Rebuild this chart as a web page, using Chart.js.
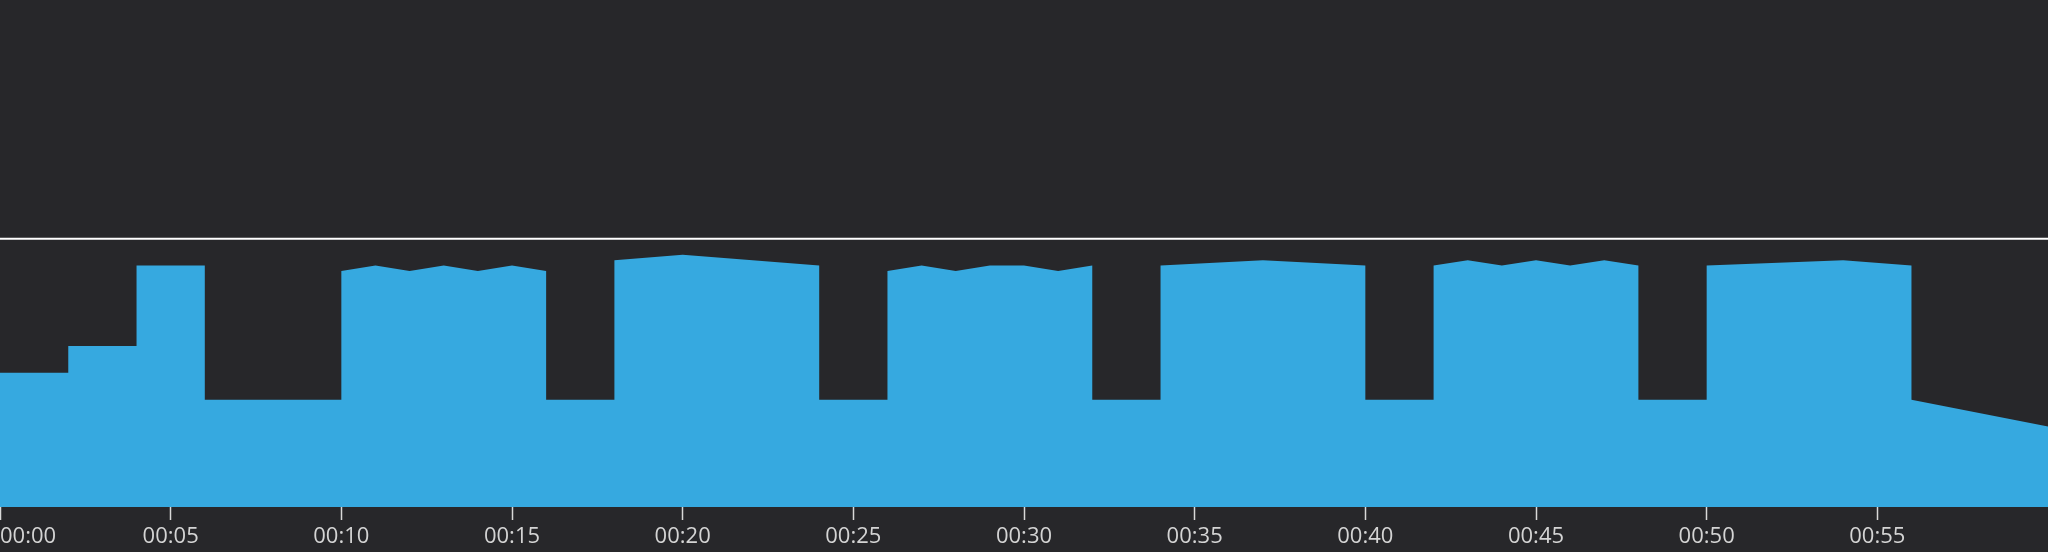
<!DOCTYPE html>
<html>
<head>
<meta charset="utf-8">
<script src="https://cdn.jsdelivr.net/npm/chart.js@4.4.1/dist/chart.umd.min.js"></script>
<style>
  html, body { margin: 0; padding: 0; background: #27272a; }
  #wrap { position: relative; width: 2048px; height: 552px; }
</style>
</head>
<body>
<div id="wrap"><canvas id="c" width="2048" height="552"></canvas></div>
<script>
// Time in minutes (duplicates make the vertical steps)
const minutes = [0, 2, 2, 4, 4, 6, 6, 10,
  10, 11, 12, 13, 14, 15, 16, 16, 18,
  18, 20, 24, 24, 26,
  26, 27, 28, 29, 30, 31, 32, 32, 34,
  34, 37, 40, 40, 42,
  42, 43, 44, 45, 46, 47, 48, 48, 50,
  50, 54, 56, 56, 60];
const values = [50, 50, 60, 60, 90, 90, 40, 40,
  88, 90, 88, 90, 88, 90, 88, 40, 40,
  92, 94, 90, 40, 40,
  88, 90, 88, 90, 90, 88, 90, 40, 40,
  90, 92, 90, 40, 40,
  90, 92, 90, 92, 90, 92, 90, 40, 40,
  90, 92, 90, 40, 30];
const limitMinutes = [0, 60];
const limitValues = [100, 100];
const tickMinutes = [0, 5, 10, 15, 20, 25, 30, 35, 40, 45, 50, 55, 60];

const fmt = m => (m >= 60 ? '' : '00:' + String(m).padStart(2, '0'));

new Chart(document.getElementById('c'), {
  type: 'line',
  data: {
    datasets: [
      {
        data: minutes.map((m, i) => ({ x: m, y: values[i] })),
        fill: 'origin',
        backgroundColor: '#36a9e0',
        borderWidth: 0,
        pointRadius: 0,
        pointHoverRadius: 0,
        tension: 0
      },
      {
        data: limitMinutes.map((m, i) => ({ x: m, y: limitValues[i] })),
        fill: false,
        borderColor: '#ffffff',
        borderWidth: 2,
        pointRadius: 0,
        pointHoverRadius: 0
      }
    ]
  },
  options: {
    responsive: false,
    animation: false,
    layout: { padding: 0, autoPadding: false },
    plugins: { legend: { display: false }, tooltip: { enabled: false } },
    scales: {
      x: {
        type: 'linear',
        min: 0,
        max: 60,
        border: { display: false },
        grid: {
          drawOnChartArea: false,
          tickLength: 13,
          tickWidth: 1.5,
          tickColor: ctx => (ctx.tick && ctx.tick.value >= 60 ? 'rgba(0,0,0,0)' : '#d8d8d8')
        },
        afterBuildTicks: s => { s.ticks = tickMinutes.map(v => ({ value: v })); },
        afterFit: s => { s.height = 45; s.paddingLeft = 0; s.paddingRight = 0; },
        ticks: {
          align: 'inner',
          maxRotation: 0,
          autoSkip: false,
          padding: 4,
          color: '#d4d4d4',
          font: { family: 'Open Sans', size: 22 },
          callback: v => fmt(v)
        }
      },
      y: {
        display: false,
        min: 0,
        max: 189
      }
    }
  }
});
</script>
</body>
</html>
